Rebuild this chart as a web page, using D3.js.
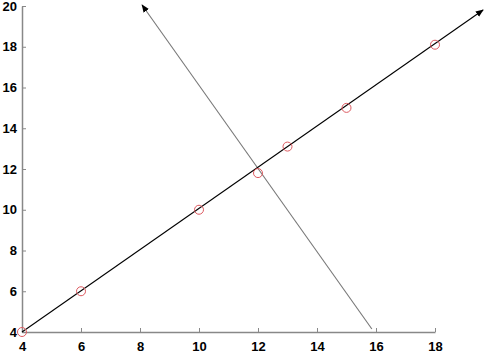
<!DOCTYPE html>
<html>
<head>
<meta charset="utf-8">
<script src="https://cdn.jsdelivr.net/npm/d3@7"></script>
<style>
	body { margin: 0; background: #fff; }
	text { font-family: "Liberation Sans", Arial, sans-serif; font-weight: bold; font-size: 13px; }
</style>
</head>
<body>
<div id="chart"></div>
<script>
// data points (red circles)
const ptX = [4, 6, 10, 12, 13, 15, 18];
const ptY = [4, 6, 10, 11.8, 13.1, 15, 18.1];
// fitted line and its perpendicular, as [x, y] end points
const fitLine = [[4, 4], [19.63, 19.8]];
const normLine = [[15.86, 4.15], [8.07, 20.05]];
const xTicks = [4, 6, 8, 10, 12, 14, 16, 18];
const yTicks = [4, 6, 8, 10, 12, 14, 16, 18, 20];

let width = 488;
let height = 354;

let x = d3.scaleLinear().domain([4, 18]).range([22, 435]);
let y = d3.scaleLinear().domain([4, 20]).range([332, 6]);

const svg = d3.select('#chart')
	.append('svg')
	.attr('width', width)
	.attr('height', height);

const defs = svg.append('defs');
defs.append('marker')
	.attr('id', 'arrow')
	.attr('viewBox', '0 0 10 10')
	.attr('refX', 9)
	.attr('refY', 5)
	.attr('markerWidth', 8)
	.attr('markerHeight', 8)
	.attr('markerUnits', 'userSpaceOnUse')
	.attr('orient', 'auto')
	.append('path')
	.attr('d', 'M0,1 L10,5 L0,9 Z')
	.attr('fill', '#000');

// x axis
const xAxis = svg.append('g')
	.attr('transform', `translate(0,${y(4)})`)
	.call(d3.axisBottom(x).tickValues(xTicks).tickSize(-4).tickSizeOuter(0).tickPadding(10));
xAxis.select('.domain').attr('stroke', '#888').attr('stroke-width', 1.5);
xAxis.selectAll('.tick line').attr('stroke', '#888');
xAxis.selectAll('text').attr('fill', '#000').style('font-size', '13px');

// y axis
const yAxis = svg.append('g')
	.attr('transform', `translate(${x(4)},0)`)
	.call(d3.axisLeft(y).tickValues(yTicks).tickSize(-4).tickSizeOuter(0).tickPadding(5));
yAxis.select('.domain').attr('stroke', '#888').attr('stroke-width', 1.5);
yAxis.selectAll('.tick line').attr('stroke', '#888');
yAxis.selectAll('text').attr('fill', '#000').style('font-size', '13px');

let line = d3.line().x(d => x(d[0])).y(d => y(d[1]));

svg.append('path')
	.datum(normLine)
	.attr('d', line)
	.attr('fill', 'none')
	.attr('stroke', '#777')
	.attr('stroke-width', 1.1)
	.attr('marker-end', 'url(#arrow)');

svg.append('path')
	.datum(fitLine)
	.attr('d', line)
	.attr('fill', 'none')
	.attr('stroke', '#000')
	.attr('stroke-width', 1.1)
	.attr('marker-end', 'url(#arrow)');

svg.append('g')
	.selectAll('circle')
	.data(ptX)
	.join('circle')
	.attr('cx', d => x(d))
	.attr('cy', (d, i) => y(ptY[i]))
	.attr('r', 4.5)
	.attr('fill', 'none')
	.attr('stroke', '#dd5a60')
	.attr('stroke-width', 1);
</script>
</body>
</html>
